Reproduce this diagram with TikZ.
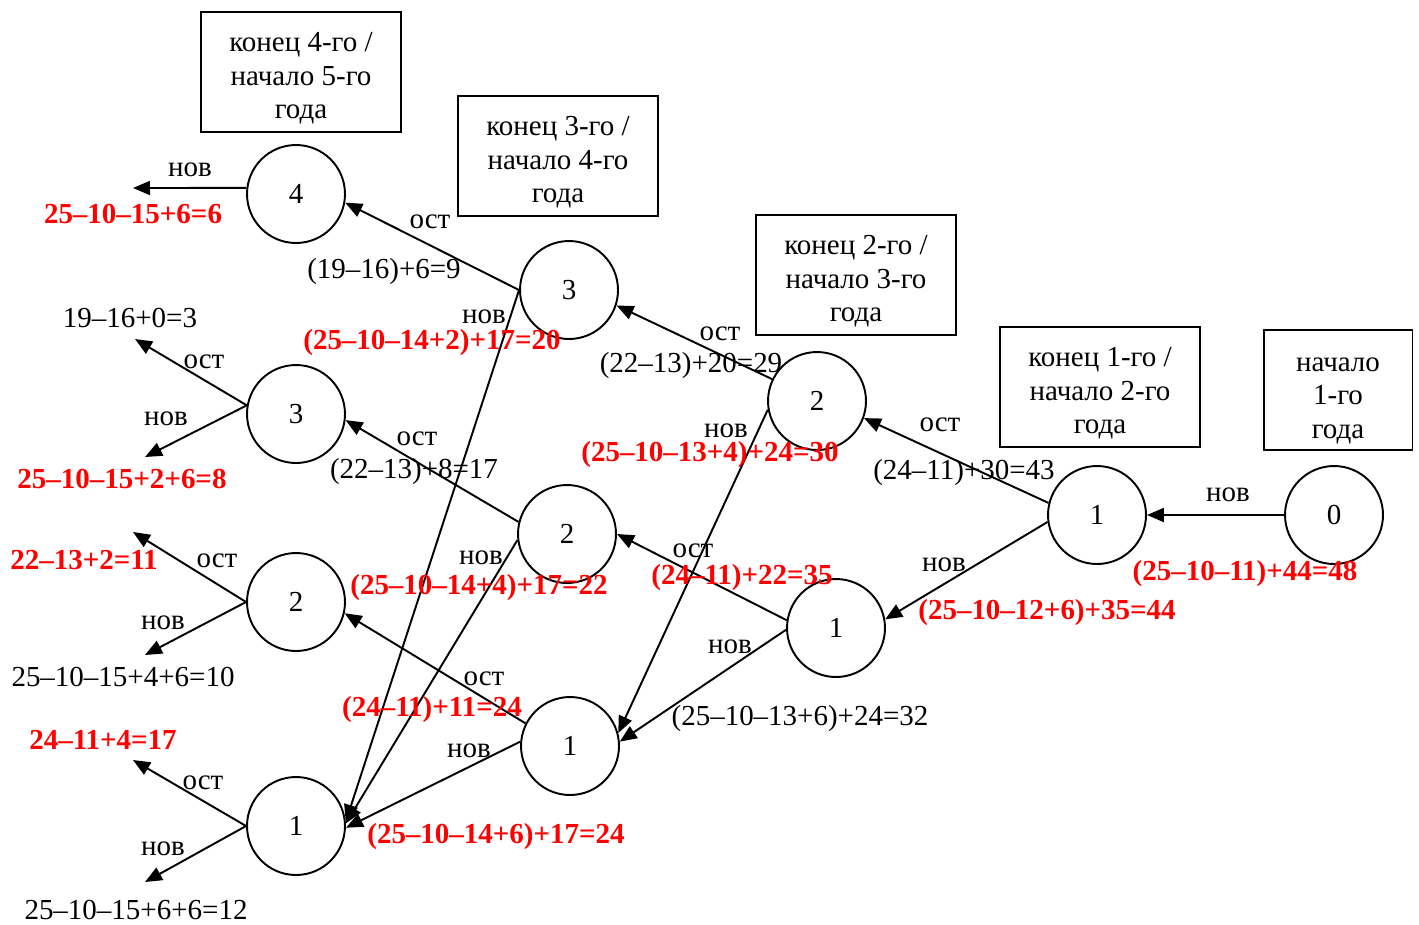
\documentclass[tikz,border=0pt]{standalone}
\usepackage{fontspec}
\setmainfont{Liberation Serif}
\usetikzlibrary{arrows.meta}
\tikzset{
    state/.style={circle, draw, line width=1.1pt, minimum size=1.96cm, inner sep=0pt},
    yearbox/.style={draw, line width=1.1pt, minimum width=4cm, minimum height=2.4cm, align=center, inner sep=2pt},
    move/.style={-{Triangle[length=0.34cm,width=0.28cm]}, line width=1.1pt},
    lbl/.style={inner sep=0pt},
    cost/.style={inner sep=0pt, text=red, font=\fontsize{16.5}{19}\selectfont\bfseries}
}
\newcommand{\boxtop}{\rule{0pt}{0.64cm}}
\begin{document}
\begin{tikzpicture}[x=0.02cm, y=-0.02cm, font=\fontsize{16.5}{19}\selectfont]
    \useasboundingbox (0,0) rectangle (1419,924);

    % year boxes
    \node[yearbox, minimum width=2.98cm] (Y1) at (1338,390) {\rule{0pt}{0.7cm}начало\\1-го\\года};
    \node[yearbox] (Y2) at (1100,387) {\boxtop конец 1-го /\\начало 2-го\\года};
    \node[yearbox] (Y3) at (856,275) {\boxtop конец 2-го /\\начало 3-го\\года};
    \node[yearbox] (Y4) at (558,156) {\boxtop конец 3-го /\\начало 4-го\\года};
    \node[yearbox] (Y5) at (301,72) {\boxtop конец 4-го /\\начало 5-го\\года};

    % states
    \node[state] (N0) at (1334,515) {0};
    \node[state] (A1) at (1097,515) {1};
    \node[state] (B2) at (817,401) {2};
    \node[state] (B1) at (836,628) {1};
    \node[state] (C3) at (569,290) {3};
    \node[state] (C2) at (567,534) {2};
    \node[state] (C1) at (570,746) {1};
    \node[state] (D4) at (296,194) {4};
    \node[state] (D3) at (296,414) {3};
    \node[state] (D2) at (296,602) {2};
    \node[state] (D1) at (296,826) {1};

    % free ends
    \coordinate (T4n) at (133,188);
    \coordinate (T3o) at (135,339);
    \coordinate (T3n) at (145,457);
    \coordinate (T2o) at (133,532);
    \coordinate (T2n) at (145,655);
    \coordinate (T1o) at (133,760);
    \coordinate (T1n) at (145,882);

    % moves
    \draw[move] (N0.west) -- (A1.east);
    \draw[move] (A1.166) -- (B2.-20);
    \draw[move] (A1.188) -- (B1.10);
    \draw[move] (B2.154) -- (C3.-18);
    \draw[move] (B2.190) -- (C1.15);
    \draw[move] (B1.171) -- (C2.east);
    \draw[move] (B1.182) -- (C1.5);
    \draw[move] (C3.west) -- (D4.-10);
    \draw[move] (C3.west) -- (D1.5);
    \draw[move] (C2.166) -- (D3.-7);
    \draw[move] (C2.187) -- (D1.3);
    \draw[move] (C1.153) -- (D2.-13);
    \draw[move] (C1.175) -- (D1.-2);
    \draw[move] (D4.173) -- (T4n);
    \draw[move] (D3.170) -- (T3o);
    \draw[move] (D3.170) -- (T3n);
    \draw[move] (D2.west) -- (T2o);
    \draw[move] (D2.west) -- (T2n);
    \draw[move] (D1.west) -- (T1o);
    \draw[move] (D1.west) -- (T1n);

    % move names
    \node[lbl] (L01) at (1228,495) {нов};
    \node[lbl] (L12o) at (940,425) {ост};
    \node[lbl] (L12n) at (944,565) {нов};
    \node[lbl] (L23o) at (720,334) {ост};
    \node[lbl] (L23n) at (726,431) {нов};
    \node[lbl] (L21o) at (693,551) {ост};
    \node[lbl] (L21n) at (730,647) {нов};
    \node[lbl] (L34o) at (430,222) {ост};
    \node[lbl] (L34n) at (484,317) {нов};
    \node[lbl] (L32o) at (417,439) {ост};
    \node[lbl] (L32n) at (481,558) {нов};
    \node[lbl] (L31o) at (484,679) {ост};
    \node[lbl] (L31n) at (469,751) {нов};
    \node[lbl] (L4n) at (190,170) {нов};
    \node[lbl] (L3o) at (204,362) {ост};
    \node[lbl] (L3n) at (166,419) {нов};
    \node[lbl] (L2o) at (217,561) {ост};
    \node[lbl] (L2n) at (163,623) {нов};
    \node[lbl] (L1o) at (203,783) {ост};
    \node[lbl] (L1n) at (163,849) {нов};

    % values
    \node[cost] (V0) at (1245,574) {(25–10–11)+44=48};
    \node[lbl] (V1o) at (964,473) {(24–11)+30=43};
    \node[cost] (V1n) at (1047,613) {(25–10–12+6)+35=44};
    \node[lbl] (V2o) at (691,366) {(22–13)+20=29};
    \node[cost] (V2n) at (710,455) {(25–10–13+4)+24=30};
    \node[cost] (V21o) at (742,578) {(24–11)+22=35};
    \node[lbl] (V21n) at (800,719) {(25–10–13+6)+24=32};
    \node[lbl] (V3o) at (384,272) {(19–16)+6=9};
    \node[cost] (V3n) at (432,343) {(25–10–14+2)+17=20};
    \node[lbl] (V32o) at (414,472) {(22–13)+8=17};
    \node[cost] (V32n) at (479,588) {(25–10–14+4)+17=22};
    \node[cost] (V31o) at (432,710) {(24–11)+11=24};
    \node[cost] (V31n) at (496,837) {(25–10–14+6)+17=24};
    \node[cost] (V4n) at (133,214) {25–10–15+6=6};
    \node[lbl] (V43o) at (130,318) {19–16+0=3};
    \node[cost] (V43n) at (122,479) {25–10–15+2+6=8};
    \node[cost] (V42o) at (84,560) {22–13+2=11};
    \node[lbl] (V42n) at (123,677) {25–10–15+4+6=10};
    \node[cost] (V41o) at (103,740) {24–11+4=17};
    \node[lbl] (V41n) at (136,910) {25–10–15+6+6=12};
\end{tikzpicture}
\end{document}
